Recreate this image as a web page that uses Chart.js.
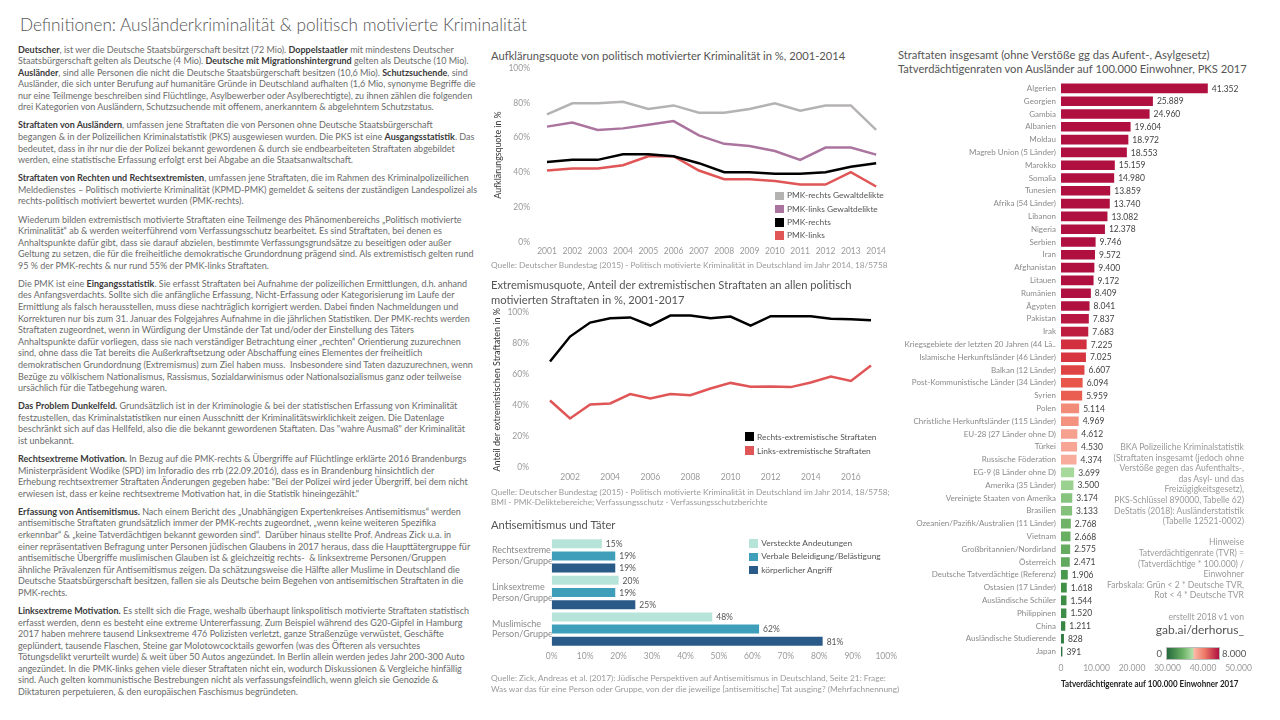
<!DOCTYPE html>
<html lang="de">
<head>
  <meta charset="UTF-8">
  <title>Definitionen: Ausländerkriminalität &amp; politisch motivierte Kriminalität</title>
  <script src="https://cdn.jsdelivr.net/npm/chart.js"></script>
  <style>
    body { margin: 0; background: #fff; font-family: Lato, "Open Sans", sans-serif; }
    #page { position: relative; width: 1280px; height: 720px; overflow: hidden; }
    .abs { position: absolute; }
    h1 { position: absolute; left: 20px; top: 14px; margin: 0; font-size: 17.2px; font-weight: 300; color: #555; white-space: nowrap; }
    .text { left: 18px; top: 43.5px; font-size: 9px; line-height: 11.58px; color: #6b6b6b; white-space: nowrap; }
    .text p { margin: 0 0 6.5px 0; }
    .text b { color: #3a3a3a; }
    .ctitle { font-size: 11.2px; color: #555; line-height: 14.5px; white-space: nowrap; }
    .source { font-size: 8.3px; color: #9a9a9a; line-height: 10.7px; white-space: nowrap; }
    .legend { font-size: 8.4px; color: #555; white-space: nowrap; }
    .legend div { position: relative; padding-left: 12px; }
    .legend span { position: absolute; left: 0; width: 8.5px; height: 8.5px; }
    .box { position: absolute; }
    .note { right: 36px; top: 442px; font-size: 8.6px; line-height: 10.6px; color: #9a9a9a; text-align: right; white-space: nowrap; }
    .note .big { font-size: 12px; line-height: 15px; color: #555; }
  </style>
</head>
<body>
<div id="page">
  <h1>Definitionen: Ausländerkriminalität &amp; politisch motivierte Kriminalität</h1>

  <!-- Textspalte -->
  <div class="abs text">
    <p><b>Deutscher</b>, ist wer die Deutsche Staatsbürgerschaft besitzt (72 Mio). <b>Doppelstaatler</b> mit mindestens Deutscher<br>
    Staatsbürgerschaft gelten als Deutsche (4 Mio). <b>Deutsche mit Migrationshintergrund</b> gelten als Deutsche (10 Mio).<br>
    <b>Ausländer</b>, sind alle Personen die nicht die Deutsche Staatsbürgerschaft besitzen (10,6 Mio). <b>Schutzsuchende</b>, sind<br>
    Ausländer, die sich unter Berufung auf humanitäre Gründe in Deutschland aufhalten (1,6 Mio, synonyme Begriffe die<br>
    nur eine Teilmenge beschreiben sind Flüchtlinge, Asylbewerber oder Asylberechtigte), zu ihnen zählen die folgenden<br>
    drei Kategorien von Ausländern, Schutzsuchende mit offenem, anerkanntem &amp; abgelehntem Schutzstatus.</p>
    <p><b>Straftaten von Ausländern</b>, umfassen jene Straftaten die von Personen ohne Deutsche Staatsbürgerschaft<br>
    begangen &amp; in der Polizeilichen Kriminalstatistik (PKS) ausgewiesen wurden. Die PKS ist eine <b>Ausgangsstatistik</b>. Das<br>
    bedeutet, dass in ihr nur die der Polizei bekannt gewordenen &amp; durch sie endbearbeiteten Straftaten abgebildet<br>
    werden, eine statistische Erfassung erfolgt erst bei Abgabe an die Staatsanwaltschaft.</p>
    <p><b>Straftaten von Rechten und Rechtsextremisten</b>, umfassen jene Straftaten, die im Rahmen des Kriminalpolizeilichen<br>
    Meldedienstes – Politisch motivierte Kriminalität (KPMD-PMK) gemeldet &amp; seitens der zuständigen Landespolizei als<br>
    rechts-politisch motiviert bewertet wurden (PMK-rechts).</p>
    <p>Wiederum bilden extremistisch motivierte Straftaten eine Teilmenge des Phänomenbereichs „Politisch motivierte<br>
    Kriminalität“ ab &amp; werden weiterführend vom Verfassungsschutz bearbeitet. Es sind Straftaten, bei denen es<br>
    Anhaltspunkte dafür gibt, dass sie darauf abzielen, bestimmte Verfassungsgrundsätze zu beseitigen oder außer<br>
    Geltung zu setzen, die für die freiheitliche demokratische Grundordnung prägend sind. Als extremistisch gelten rund<br>
    95 % der PMK-rechts &amp; nur rund 55% der PMK-links Straftaten.</p>
    <p>Die PMK ist eine <b>Eingangsstatistik</b>. Sie erfasst Straftaten bei Aufnahme der polizeilichen Ermittlungen, d.h. anhand<br>
    des Anfangsverdachts. Sollte sich die anfängliche Erfassung, Nicht-Erfassung oder Kategorisierung im Laufe der<br>
    Ermittlung als falsch herausstellen, muss diese nachträglich korrigiert werden. Dabei finden Nachmeldungen und<br>
    Korrekturen nur bis zum 31. Januar des Folgejahres Aufnahme in die jährlichen Statistiken. Der PMK-rechts werden<br>
    Straftaten zugeordnet, wenn in Würdigung der Umstände der Tat und/oder der Einstellung des Täters<br>
    Anhaltspunkte dafür vorliegen, dass sie nach verständiger Betrachtung einer „rechten“ Orientierung zuzurechnen<br>
    sind, ohne dass die Tat bereits die Außerkraftsetzung oder Abschaffung eines Elementes der freiheitlich<br>
    demokratischen Grundordnung (Extremismus) zum Ziel haben muss.&nbsp; Insbesondere sind Taten dazuzurechnen, wenn<br>
    Bezüge zu völkischem Nationalismus, Rassismus, Sozialdarwinismus oder Nationalsozialismus ganz oder teilweise<br>
    ursächlich für die Tatbegehung waren.</p>
    <p><b>Das Problem Dunkelfeld.</b> Grundsätzlich ist in der Kriminologie &amp; bei der statistischen Erfassung von Kriminalität<br>
    festzustellen, das Kriminalstatistiken nur einen Ausschnitt der Kriminalitätswirklichkeit zeigen. Die Datenlage<br>
    beschränkt sich auf das Hellfeld, also die die bekannt gewordenen Staftaten. Das "wahre Ausmaß" der Kriminalität<br>
    ist unbekannt.</p>
    <p><b>Rechtsextreme Motivation.</b> In Bezug auf die PMK-rechts &amp; Übergriffe auf Flüchtlinge erklärte 2016 Brandenburgs<br>
    Ministerpräsident Wodike (SPD) im Inforadio des rrb (22.09.2016), dass es in Brandenburg hinsichtlich der<br>
    Erhebung rechtsextremer Straftaten Änderungen gegeben habe: "Bei der Polizei wird jeder Übergriff, bei dem nicht<br>
    erwiesen ist, dass er keine rechtsextreme Motivation hat, in die Statistik hineingezählt."</p>
    <p><b>Erfassung von Antisemitismus.</b> Nach einem Bericht des „Unabhängigen Expertenkreises Antisemitismus“ werden<br>
    antisemitische Straftaten grundsätzlich immer der PMK-rechts zugeordnet, „wenn keine weiteren Spezifika<br>
    erkennbar“ &amp; „keine Tatverdächtigen bekannt geworden sind“.&nbsp; Darüber hinaus stellte Prof. Andreas Zick u.a. in<br>
    einer repräsentativen Befragung unter Personen jüdischen Glaubens in 2017 heraus, dass die Haupttätergruppe für<br>
    antisemitische Übergriffe muslimischen Glauben ist &amp; gleichzeitig rechts-&nbsp; &amp; linksextreme Personen/Gruppen<br>
    ähnliche Prävalenzen für Antisemitismus zeigen. Da schätzungsweise die Hälfte aller Muslime in Deutschland die<br>
    Deutsche Staatsbürgerschaft besitzen, fallen sie als Deutsche beim Begehen von antisemitischen Straftaten in die<br>
    PMK-rechts.</p>
    <p><b>Linksextreme Motivation.</b> Es stellt sich die Frage, weshalb überhaupt linkspolitisch motivierte Straftaten statistisch<br>
    erfasst werden, denn es besteht eine extreme Untererfassung. Zum Beispiel während des G20-Gipfel in Hamburg<br>
    2017 haben mehrere tausend Linksextreme 476 Polizisten verletzt, ganze Straßenzüge verwüstet, Geschäfte<br>
    geplündert, tausende Flaschen, Steine gar Molotowcocktails geworfen (was des Öfteren als versuchtes<br>
    Tötungsdelikt verurteilt wurde) &amp; weit über 50 Autos angezündet. In Berlin allein werden jedes Jahr 200-300 Auto<br>
    angezündet. In die PMK-links gehen viele dieser Straftaten nicht ein, wodurch Diskussionen &amp; Vergleiche hinfällig<br>
    sind. Auch gelten kommunistische Bestrebungen nicht als verfassungsfeindlich, wenn gleich sie Genozide &amp;<br>
    Diktaturen perpetuieren, &amp; den europäischen Faschismus begründeten.</p>
  </div>

  <!-- Chart 1 -->
  <div class="abs ctitle" style="left:491px; top:48.5px;">Aufklärungsquote von politisch motivierter Kriminalität in %, 2001-2014</div>
  <div class="box" style="left:490px; top:62px; width:400px; height:200px;"><canvas id="aufklaerung"></canvas></div>
  <div class="abs legend" style="left:775px; top:189.4px; line-height:13.2px;">
    <div><span style="top:2.4px; background:#b5b2b2;"></span>PMK-rechts Gewaltdelikte</div>
    <div><span style="top:2.4px; background:#ab749f;"></span>PMK-links Gewaltdelikte</div>
    <div><span style="top:2.4px; background:#000;"></span>PMK-rechts</div>
    <div><span style="top:2.4px; background:#e05556;"></span>PMK-links</div>
  </div>
  <div class="abs source" style="left:491px; top:260px;">Quelle: Deutscher Bundestag (2015) - Politisch motivierte Kriminalität in Deutschland im Jahr 2014, 18/5758</div>

  <!-- Chart 2 -->
  <div class="abs ctitle" style="left:491px; top:278px;">Extremismusquote, Anteil der extremistischen Straftaten an allen politisch<br>motivierten Straftaten in %, 2001-2017</div>
  <div class="box" style="left:490px; top:305px; width:400px; height:180px;"><canvas id="extremismus"></canvas></div>
  <div class="abs legend" style="left:745px; top:429.7px; line-height:14px;">
    <div><span style="top:2.8px; background:#000;"></span>Rechts-extremistische Straftaten</div>
    <div><span style="top:2.8px; background:#e05556;"></span>Links-extremistische Straftaten</div>
  </div>
  <div class="abs source" style="left:491px; top:486.5px;">Quelle: Deutscher Bundestag (2015) - Politisch motivierte Kriminalität in Deutschland im Jahr 2014, 18/5758;<br>BMI - PMK-Deliktebereiche; Verfassungsschutz - Verfassungsschutzberichte</div>

  <!-- Chart 3 -->
  <div class="abs ctitle" style="left:491px; top:518px;">Antisemitismus und Täter</div>
  <div class="box" style="left:490px; top:532px; width:411px; height:136px;"><canvas id="antisemitismus"></canvas></div>
  <div class="abs legend" style="left:749.3px; top:537.1px; line-height:13.2px;">
    <div><span style="top:2.4px; background:#b7e4d8;"></span>Versteckte Andeutungen</div>
    <div><span style="top:2.4px; background:#3f9fba;"></span>Verbale Beleidigung/Belästigung</div>
    <div><span style="top:2.4px; background:#2a5a88;"></span>körperlicher Angriff</div>
  </div>
  <div class="abs source" style="left:491px; top:673px;">Quelle: Zick, Andreas et al. (2017): Jüdische Perspektiven auf Antisemitismus in Deutschland, Seite 21: Frage:<br>Was war das für eine Person oder Gruppe, von der die jeweilige [antisemitische] Tat ausging? (Mehrfachnennung)</div>

  <!-- Chart 4 -->
  <div class="abs ctitle" style="left:898px; top:47.5px; line-height:14px;">Straftaten insgesamt (ohne Verstöße gg das Aufent-, Asylgesetz)<br>Tatverdächtigenraten von Ausländer auf 100.000 Einwohner, PKS 2017</div>
  <div class="box" style="left:890px; top:78px; width:370px; height:620px;"><canvas id="tvr"></canvas></div>
  <div class="abs note">
    BKA Polizeiliche Kriminalstatistik<br>
    (Straftaten insgesamt (jedoch ohne<br>
    Verstöße gegen das Aufenthalts-,<br>
    das Asyl- und das<br>
    Freizügigkeitsgesetz),<br>
    PKS-Schlüssel 890000, Tabelle 62)<br>
    DeStatis (2018): Ausländerstatistik<br>
    (Tabelle 12521-0002)<br>
    <br>
    Hinweise<br>
    Tatverdächtigenrate (TVR) =<br>
    (Tatverdächtige * 100.000) /<br>
    Einwohner<br>
    Farbskala: Grün &lt; 2 * Deutsche TVR,<br>
    Rot &lt; 4 * Deutsche TVR<br>
    <br>
    erstellt 2018 v1 von<br>
    <span class="big">gab.ai/derhorus_</span>
  </div>
  <div class="abs" style="left:1140px; top:647.5px; width:22px; text-align:right; font-size:9.5px; line-height:12px; color:#555;">0</div>
  <div class="abs" style="left:1166px; top:647px; width:52px; height:11px; border:0.5px solid #bbb;
       background:linear-gradient(to right, #24693d 0%, #6ab064 30%, #b4e0aa 50%, #fbb8a8 52%, #ee7a68 72%, #b0103e 100%);"></div>
  <div class="abs" style="left:1222px; top:647.5px; font-size:9.5px; line-height:12px; color:#555;">8.000</div>
</div>

<script>
  // Aufklärungsquote 2001-2014 (%)
  const jahre1 = ["2001", "2002", "2003", "2004", "2005", "2006", "2007", "2008", "2009", "2010", "2011", "2012", "2013", "2014"];
  const pmkRechtsGewalt = [73.4, 79.7, 79.7, 80.6, 76.4, 78.5, 74.3, 74.3, 76.4, 79.7, 75.5, 78.5, 78.5, 64.4];
  const pmkLinksGewalt = [66.3, 68.6, 64.4, 65.3, 67.4, 69.5, 61.3, 56.4, 55.2, 52.3, 47.2, 54.3, 54.3, 50.2];
  const pmkRechts = [46.0, 47.2, 47.2, 50.4, 50.4, 49.3, 45.3, 40.1, 40.1, 39.2, 39.2, 40.1, 43.2, 45.3];
  const pmkLinks = [41.1, 42.2, 42.2, 44.1, 49.3, 49.3, 41.1, 36.1, 36.1, 35.0, 33.0, 33.0, 40.1, 31.9];

  // Extremismusquote 2001-2017 (%)
  const jahre2 = ["2001", "2002", "2003", "2004", "2005", "2006", "2007", "2008", "2009", "2010", "2011", "2012", "2013", "2014", "2015", "2016", "2017"];
  const rechtsExtrem = [68.2, 84.2, 93.2, 96.0, 96.5, 91.3, 97.7, 97.7, 96.0, 97.1, 91.3, 97.3, 97.3, 97.3, 95.6, 95.4, 94.7];
  const linksExtrem = [43.1, 31.5, 40.5, 41.2, 47.2, 44.4, 47.2, 46.5, 50.8, 54.4, 51.9, 52.1, 51.7, 54.7, 58.5, 55.7, 65.6];

  // Antisemitismus und Täter (%)
  const taeterGruppen = [["Rechtsextreme", "Person/Gruppe"], ["Linksextreme", "Person/Gruppe"], ["Muslimische", "Person/Gruppe"]];
  const versteckt = [15, 20, 48];
  const verbal = [19, 19, 62];
  const koerperlich = [19, 25, 81];

  // Tatverdächtigenraten PKS 2017
  const laender = [
    "Algerien", "Georgien", "Gambia", "Albanien", "Moldau", "Magreb Union (5 Länder)", "Marokko", "Somalia",
    "Tunesien", "Afrika (54 Länder)", "Libanon", "Nigeria", "Serbien", "Iran", "Afghanistan", "Litauen",
    "Rumänien", "Ägypten", "Pakistan", "Irak", "Kriegsgebiete der letzten 20 Jahren (44 Lä..",
    "Islamische Herkunftsländer (46 Länder)", "Balkan (12 Länder)", "Post-Kommunistische Länder (34 Länder)",
    "Syrien", "Polen", "Christliche Herkunftsländer (115 Länder)", "EU-28 (27 Länder ohne D)", "Türkei",
    "Russische Föderation", "EG-9 (8 Länder ohne D)", "Amerika (35 Länder)", "Vereinigte Staaten von Amerika",
    "Brasilien", "Ozeanien/Pazifik/Australien (11 Länder)", "Vietnam", "Großbritannien/Nordirland", "Österreich",
    "Deutsche Tatverdächtige (Referenz)", "Ostasien (17 Länder)", "Ausländische Schüler", "Philippinen", "China",
    "Ausländische Studierende", "Japan"
  ];
  const tvr = [
    41352, 25889, 24960, 19604, 18972, 18553, 15159, 14980, 13859, 13740, 13082, 12378, 9746, 9572, 9400, 9172,
    8409, 8041, 7837, 7683, 7225, 7025, 6607, 6094, 5959, 5114, 4969, 4612, 4530, 4374, 3699, 3500, 3174, 3133,
    2768, 2668, 2575, 2471, 1906, 1618, 1544, 1520, 1211, 828, 391
  ];
  const tvrTicks = [0, 10000, 20000, 30000, 40000, 50000];

  Chart.defaults.font.family = "Lato, 'Open Sans', sans-serif";
  Chart.defaults.color = "#9a9a9a";
  Chart.defaults.animation = false;
  Chart.defaults.plugins.legend.display = false;
  Chart.defaults.plugins.tooltip.enabled = false;

  const punkt = v => String(v).replace(/\B(?=(\d{3})+(?!\d))/g, ".");
  const ohneGitter = { display: false, drawTicks: false };

  // feste Achsenbreite, ohne zusätzlichen Rand oben/unten
  const festeBreite = w => s => { s.width = w; s.paddingTop = 0; s.paddingBottom = 0; };

  // Beschriftung rechts neben den Balken
  function balkenWerte(format, font, farbe) {
    return {
      id: "balkenWerte",
      afterDatasetsDraw(chart) {
        const ctx = chart.ctx;
        ctx.save();
        ctx.font = font;
        ctx.fillStyle = farbe;
        ctx.textAlign = "left";
        ctx.textBaseline = "middle";
        chart.data.datasets.forEach((ds, di) => {
          chart.getDatasetMeta(di).data.forEach((bar, i) => {
            ctx.fillText(format(ds.data[i]), bar.x + 4, bar.y + 0.5);
          });
        });
        ctx.restore();
      }
    };
  }

  // Farbskala grün -> rot, gekappt bei 8.000
  const gruen = [[0, [36, 105, 61]], [1600, [62, 142, 71]], [2700, [106, 176, 100]], [3700, [166, 217, 156]], [4000, [184, 226, 173]]];
  const rot = [[4000, [251, 188, 174]], [5100, [242, 140, 120]], [6100, [233, 86, 75]], [7200, [211, 48, 63]], [8000, [176, 16, 64]]];
  function tvrFarbe(v) {
    const stops = v < 4000 ? gruen : rot;
    v = Math.min(v, 8000);
    for (let i = 1; i < stops.length; i++) {
      if (v <= stops[i][0]) {
        const t = (v - stops[i - 1][0]) / (stops[i][0] - stops[i - 1][0]);
        const a = stops[i - 1][1], b = stops[i][1];
        return "rgb(" + a.map((c, k) => Math.round(c + (b[k] - c) * t)).join(",") + ")";
      }
    }
    return "rgb(176,16,64)";
  }

  const linie = (label, data, farbe) => ({
    label: label, data: data, borderColor: farbe, backgroundColor: farbe,
    borderWidth: 2.5, pointRadius: 0, tension: 0
  });

  new Chart(document.getElementById("aufklaerung"), {
    type: "line",
    data: {
      labels: jahre1,
      datasets: [
        linie("PMK-rechts Gewaltdelikte", pmkRechtsGewalt, "#b5b2b2"),
        linie("PMK-links Gewaltdelikte", pmkLinksGewalt, "#ab749f"),
        linie("PMK-rechts", pmkRechts, "#000"),
        linie("PMK-links", pmkLinks, "#e05556"),
      ],
    },
    options: {
      responsive: true,
      maintainAspectRatio: false,
      layout: { padding: { top: 6, right: 13, left: 0, bottom: 0 } },
      scales: {
        x: {
          grid: ohneGitter, border: { display: false },
          ticks: { autoSkip: false, maxRotation: 0, padding: 4, font: { size: 8.5 } },
          afterFit: s => { s.height = 20; },
        },
        y: {
          min: 0, max: 100,
          grid: ohneGitter, border: { display: false },
          ticks: { stepSize: 20, padding: 17, font: { size: 8.5 }, callback: v => v + "%" },
          title: { display: true, text: "Aufklärungsquote in %", color: "#333", font: { size: 8.8 }, padding: { top: 3 } },
          afterFit: festeBreite(57),
        },
      },
    },
  });

  new Chart(document.getElementById("extremismus"), {
    type: "line",
    data: {
      labels: jahre2,
      datasets: [
        linie("Rechts-extremistische Straftaten", rechtsExtrem, "#000"),
        linie("Links-extremistische Straftaten", linksExtrem, "#e05556"),
      ],
    },
    options: {
      responsive: true,
      maintainAspectRatio: false,
      layout: { padding: { top: 7, right: 19, left: 0, bottom: 0 } },
      scales: {
        x: {
          grid: ohneGitter, border: { display: false },
          ticks: {
            autoSkip: false, maxRotation: 0, padding: 5, font: { size: 8.5 },
            callback: (v, i) => (Number(jahre2[i]) % 2 === 0 ? jahre2[i] : ""),
          },
          afterFit: s => { s.height = 17.5; },
        },
        y: {
          min: 0, max: 100,
          grid: ohneGitter, border: { display: false },
          ticks: { stepSize: 20, padding: 21, font: { size: 8.5 }, callback: v => v + "%" },
          title: { display: true, text: "Anteil der extremistischen Straftaten in %", color: "#333", font: { size: 9 }, padding: { top: 2 } },
          afterFit: festeBreite(60),
        },
      },
    },
  });

  new Chart(document.getElementById("antisemitismus"), {
    type: "bar",
    data: {
      labels: taeterGruppen,
      datasets: [
        { label: "Versteckte Andeutungen", data: versteckt, backgroundColor: "#b7e4d8" },
        { label: "Verbale Beleidigung/Belästigung", data: verbal, backgroundColor: "#3f9fba" },
        { label: "körperlicher Angriff", data: koerperlich, backgroundColor: "#2a5a88" },
      ],
    },
    options: {
      indexAxis: "y",
      responsive: true,
      maintainAspectRatio: false,
      categoryPercentage: 1,
      barPercentage: 0.74,
      layout: { padding: { top: 5.6, right: 14, left: 2, bottom: 0 } },
      scales: {
        x: {
          min: 0, max: 100,
          grid: ohneGitter, border: { display: false },
          ticks: { stepSize: 10, padding: 4, font: { size: 8.5 }, callback: v => v + "%" },
          afterFit: s => { s.height = 20.6; },
        },
        y: {
          grid: ohneGitter, border: { display: false },
          ticks: { crossAlign: "far", color: "#8a8a8a", font: { size: 9, lineHeight: 1.2 } },
          afterFit: festeBreite(59.7),
        },
      },
    },
    plugins: [balkenWerte(v => v + "%", "8.5px Lato", "#555")],
  });

  new Chart(document.getElementById("tvr"), {
    type: "bar",
    data: {
      labels: laender,
      datasets: [{ label: "TVR", data: tvr, backgroundColor: c => tvrFarbe(c.raw) }],
    },
    options: {
      indexAxis: "y",
      responsive: true,
      maintainAspectRatio: false,
      categoryPercentage: 1,
      barPercentage: 0.75,
      layout: { padding: { top: 4, right: 21.5, left: 0, bottom: 0 } },
      scales: {
        x: {
          min: 0, max: 50000,
          afterBuildTicks: s => { s.ticks = tvrTicks.map(v => ({ value: v })); },
          grid: ohneGitter, border: { display: false },
          ticks: { padding: 5, font: { size: 8.5 }, callback: v => punkt(v) },
          title: { display: true, text: "Tatverdächtigenrate auf 100.000 Einwohner 2017", color: "#222", font: { size: 9.5, weight: "bold" }, padding: { bottom: 8.7 } },
          afterFit: s => { s.height = 40; },
        },
        y: {
          grid: ohneGitter, border: { display: false },
          ticks: { autoSkip: false, padding: 5, color: "#8a8a8a", font: { size: 8 } },
          afterFit: festeBreite(171),
        },
      },
    },
    plugins: [balkenWerte(punkt, "8.5px Lato", "#444")],
  });
</script>
</body>
</html>
